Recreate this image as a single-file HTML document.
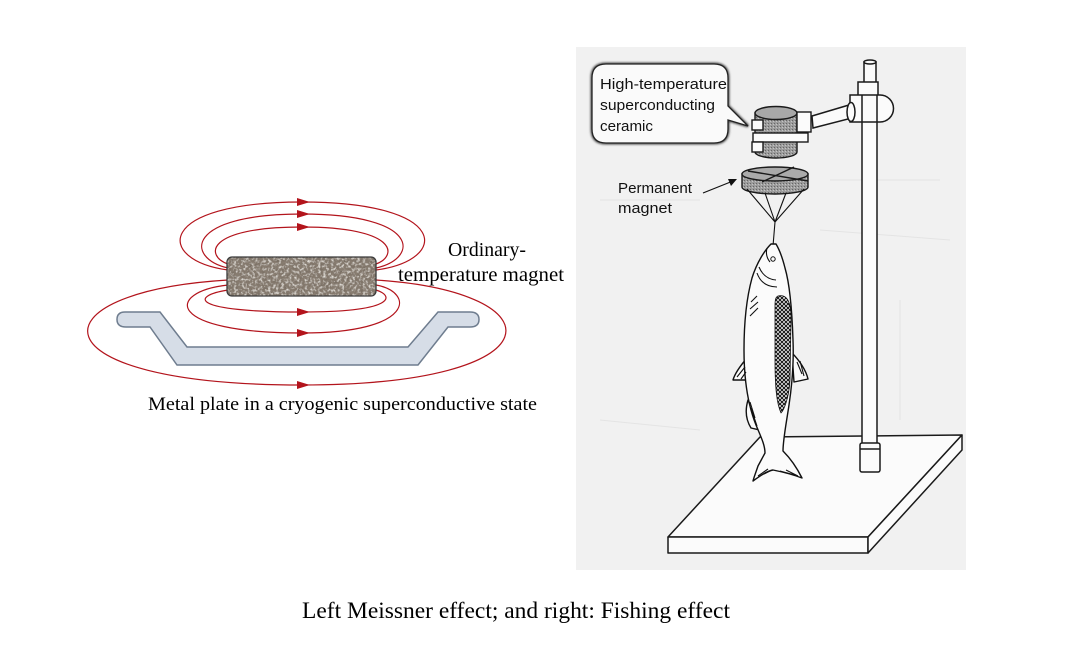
<!DOCTYPE html>
<html><head><meta charset="utf-8"><style>
html,body{margin:0;padding:0;background:#fff;}
svg{display:block;}
</style></head><body>
<svg width="1072" height="660" viewBox="0 0 1072 660" xmlns="http://www.w3.org/2000/svg">
<defs>
<filter id="grain" x="0" y="0" width="100%" height="100%">
<feTurbulence type="fractalNoise" baseFrequency="0.38" numOctaves="2" seed="7" result="n"/>
<feColorMatrix in="n" type="matrix" values="0 0 0 0 0.18  0 0 0 0 0.15  0 0 0 0 0.12  2.4 0 0 0 -1.0" result="dark"/>
<feColorMatrix in="n" type="matrix" values="0 0 0 0 0.86  0 0 0 0 0.83  0 0 0 0 0.78  0 -2.4 0 0 1.25" result="light"/>
<feMerge><feMergeNode in="SourceGraphic"/><feMergeNode in="dark"/><feMergeNode in="light"/></feMerge>
<feComposite in2="SourceGraphic" operator="in"/>
</filter>
<pattern id="hatch" width="4" height="4" patternUnits="userSpaceOnUse">
<rect width="4" height="4" fill="#f4f4f4"/>
<path d="M0,0 L4,4 M4,0 L0,4" stroke="#111" stroke-width="1"/>
</pattern>
<pattern id="stip" width="3" height="3" patternUnits="userSpaceOnUse">
<rect width="3" height="3" fill="#9c9c9c"/>
<rect x="0" y="0" width="1" height="1" fill="#666"/>
<rect x="2" y="1" width="1" height="1" fill="#c4c4c4"/>
</pattern>
<filter id="soft"><feGaussianBlur stdDeviation="1"/></filter>
</defs>

<!-- LEFT DIAGRAM -->
<path d="M125,312 L160,312 L187,347 L408,347 L438,312 L470,312 Q479,312 479,319.5 Q479,327 470,327 L448,327 L418,365 L177,365 L150,327 L126,327 Q117,327 117,319.5 Q117,312 125,312 Z" fill="#d6dde7" stroke="#6f7d8f" stroke-width="1.5"/>

<g fill="none" stroke="#b3141c" stroke-width="1.2">
<path d="M228,270 C155,260 155,202 302,202 C450,202 450,260 376,270"/>
<path d="M228,268 C185,258 185,214 302,214 C420,214 420,258 376,268"/>
<path d="M228,264 C205,256 205,227 302,227 C398,227 398,256 376,264"/>
<path d="M228,290 C190,296 190,312 302,312 C395,312 395,296 376,290"/>
<path d="M228,285 C165,292 165,333 302,333 C415,333 415,292 376,285"/>
<path d="M228,280 C30,292 30,385 302,385 C560,385 560,292 376,280"/>
</g>
<g fill="#b3141c">
<polygon points="297,198 310,202 297,206"/>
<polygon points="297,210 310,214 297,218"/>
<polygon points="297,223 310,227 297,231"/>
<polygon points="297,308 310,312 297,316"/>
<polygon points="297,329 310,333 297,337"/>
<polygon points="297,381 310,385 297,389"/>
</g>

<rect x="227" y="257" width="149" height="39" rx="5" fill="#877b6f" filter="url(#grain)"/>
<rect x="227" y="257" width="149" height="39" rx="5" fill="none" stroke="#3a3a3a" stroke-width="1.3"/>

<g font-family="'Liberation Serif', serif" fill="#000">
<text x="448" y="256" font-size="20.5" textLength="78" lengthAdjust="spacingAndGlyphs">Ordinary-</text>
<text x="398" y="281" font-size="20.5" textLength="166" lengthAdjust="spacingAndGlyphs">temperature magnet</text>
<text x="148" y="410" font-size="19" textLength="389" lengthAdjust="spacingAndGlyphs">Metal plate in a cryogenic superconductive state</text>
<text x="302" y="618" font-size="23" textLength="428" lengthAdjust="spacingAndGlyphs">Left Meissner effect; and right: Fishing effect</text>
</g>

<!-- RIGHT IMAGE -->
<rect x="576" y="47" width="390" height="523" fill="#f1f1f1"/>
<g stroke="#e4e4e4" stroke-width="1" fill="none">
<path d="M600,200 L700,200 M820,230 L950,240 M600,420 L700,430 M900,300 L900,420 M830,180 L940,180"/>
</g>

<g stroke="#1a1a1a" stroke-width="1.5" fill="#fbfbfb" stroke-linejoin="round">
<polygon points="760,437 962,435 868,537 668,537"/>
<polygon points="668,537 868,537 868,553 668,553"/>
<polygon points="868,537 962,435 962,450 868,553"/>
</g>

<g stroke="#1a1a1a" stroke-width="1.5" fill="#fbfbfb">
<rect x="862" y="100" width="15" height="345"/>
<rect x="860" y="443" width="20" height="29" rx="2"/>
<line x1="860" y1="449" x2="880" y2="449"/>
<rect x="864" y="62" width="12" height="22"/>
<ellipse cx="870" cy="62" rx="6" ry="2"/>
<rect x="858" y="82" width="20" height="20"/>
<polygon points="812,116 849,105 852,118 813,128"/>
<path d="M850,95 L880,95 A13.5,13.5 0 0 1 880,122 L850,122 Z"/>
<line x1="862" y1="95" x2="862" y2="122"/>
<line x1="877" y1="95" x2="877" y2="122"/>
<ellipse cx="851" cy="112" rx="4" ry="9.5"/>
</g>

<!-- ceramic cylinder -->
<g stroke="#1a1a1a" stroke-width="1.4">
<path d="M755,113 L755,152 A21,6 0 0 0 797,152 L797,113 Z" fill="url(#stip)"/>
<ellipse cx="776" cy="113" rx="21" ry="6.5" fill="#a8a8a8"/>
<rect x="753" y="133" width="55" height="9" fill="#fbfbfb"/>
<rect x="752" y="120" width="11" height="10" fill="#fbfbfb"/>
<rect x="752" y="142" width="11" height="10" fill="#fbfbfb"/>
<rect x="797" y="112" width="14" height="20" fill="#fbfbfb"/>
</g>

<!-- permanent magnet -->
<g stroke="#1a1a1a" stroke-width="1.4">
<path d="M742,174 L742,187 A33,7 0 0 0 808,187 L808,174 Z" fill="url(#stip)"/>
<ellipse cx="775" cy="174" rx="33" ry="7" fill="#aaaaaa"/>
<line x1="748" y1="171" x2="808" y2="181"/>
<line x1="762" y1="182" x2="794" y2="167"/>
</g>
<g stroke="#111" stroke-width="1.1" fill="none">
<path d="M747,189 L775,222 M765,193 L775,222 M786,193 L775,222 M804,189 L775,222 M775,222 L773,246"/>
<path d="M703,193 L733,181"/>
</g>
<polygon points="737,179 728,179 731,186" fill="#111"/>

<!-- fish -->
<g stroke="#111" stroke-width="1.4" stroke-linejoin="round">
<path d="M759,288 C752,294 748,305 748,322 C753,318 758,306 761,295 Z" fill="#fbfbfb"/>
<path d="M747,358 C741,365 735,373 733,380 L746,380 Z" fill="#fbfbfb"/>
<path d="M792,353 C799,360 806,370 808,379 L794,382 Z" fill="#fbfbfb"/>
<path d="M748,400 C745,410 746,420 751,428 L764,431 C758,420 752,410 748,400 Z" fill="#fbfbfb"/>
<path d="M771,244 C765,250 757,262 752,278 C746,300 744,325 744,350 C744,380 748,405 756,425 C761,437 765,445 765,453 L758,466 C756,472 754,477 753,481 C760,476 767,471 773,470 C783,472 794,475 802,478 C797,468 790,458 783,451 C783,440 786,425 789,405 C792,385 794,365 793,340 C792,310 790,285 785,268 C782,256 779,249 776,244 Z" fill="#fbfbfb"/>
<path d="M778,296 C786,294 791,300 791,318 L790,380 C789,398 784,410 781,413 C777,404 775,390 775,360 L775,305 C775,299 776,297 778,296 Z" fill="url(#hatch)" stroke-width="0.8"/>
</g>
<g stroke="#111" stroke-width="1.1" fill="none">
<path d="M759,267 Q764,279 776,280"/>
<path d="M757,273 Q762,287 777,287"/>
<path d="M767,248 Q765,256 770,262"/>
<path d="M751,302 L757,296 M750,309 L758,302 M750,316 L758,308"/>
<path d="M737,377 L745,367 M741,379 L746,372"/>
<path d="M797,362 L802,374 M800,361 L804,376"/>
<path d="M751,408 L757,426 M750,402 L755,418"/>
<path d="M758,476 L768,469 M764,474 L772,470 M780,471 L795,475 M786,470 L798,476"/>
</g>
<circle cx="773" cy="259" r="2.2" fill="#fbfbfb" stroke="#111" stroke-width="1"/>

<!-- callout -->
<path d="M606,64 L714,64 Q728,64 728,78 L728,106 L748,126 L728,120 L728,129 Q728,143 714,143 L606,143 Q592,143 592,129 L592,78 Q592,64 606,64 Z" fill="none" stroke="#444" stroke-width="3" filter="url(#soft)"/>
<path d="M606,64 L714,64 Q728,64 728,78 L728,106 L748,126 L728,120 L728,129 Q728,143 714,143 L606,143 Q592,143 592,129 L592,78 Q592,64 606,64 Z" fill="#fafafa" stroke="#222" stroke-width="1.3"/>

<g font-family="'Liberation Sans', sans-serif" fill="#111" font-size="15">
<text x="600" y="89" textLength="127" lengthAdjust="spacingAndGlyphs">High-temperature</text>
<text x="600" y="110" textLength="115" lengthAdjust="spacingAndGlyphs">superconducting</text>
<text x="600" y="131" textLength="53" lengthAdjust="spacingAndGlyphs">ceramic</text>
<text x="618" y="193" textLength="74" lengthAdjust="spacingAndGlyphs">Permanent</text>
<text x="618" y="213" textLength="54" lengthAdjust="spacingAndGlyphs">magnet</text>
</g>
</svg>
</body></html>
